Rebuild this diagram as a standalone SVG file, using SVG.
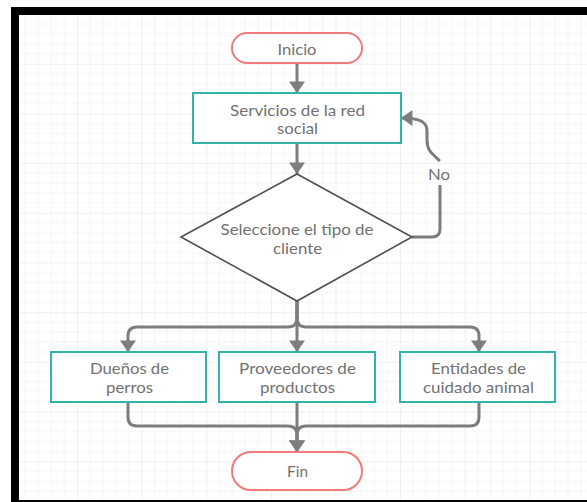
<svg xmlns="http://www.w3.org/2000/svg" width="587" height="502" viewBox="0 0 587 502">
  <style>
    .term { fill: #ffffff; stroke: #f27a78; stroke-width: 2; }
    .proc { fill: #ffffff; stroke: #33b1ab; stroke-width: 2; }
    .dec { fill: #ffffff; stroke: #4f4f4f; stroke-width: 1.6; }
    .lbl { font-family: Lato, "Open Sans", sans-serif; font-size: 15px; fill: #727272; text-anchor: middle; dominant-baseline: central; }
    .edge { fill: none; stroke: #7d7d7d; stroke-width: 3; }
    .arrow { marker-end: url(#head); }
    .minor { stroke: #f5f5f5; stroke-width: 1; }
    .major { stroke: #ebebeb; stroke-width: 1.6; }
  </style>
  <defs>
    <marker id="head" markerUnits="userSpaceOnUse" markerWidth="16" markerHeight="16" viewBox="0 0 10 14" refX="10" refY="7" orient="auto">
      <path d="M0,0 L10,7 L0,14 Z" fill="#7d7d7d"/>
    </marker>
    <pattern id="grid" patternUnits="userSpaceOnUse" x="12.5" y="14" width="64.6" height="49.7">
      <g class="minor">
        <line x1="12.92" y1="0" x2="12.92" y2="49.7"/>
        <line x1="25.84" y1="0" x2="25.84" y2="49.7"/>
        <line x1="38.76" y1="0" x2="38.76" y2="49.7"/>
        <line x1="51.68" y1="0" x2="51.68" y2="49.7"/>
        <line x1="0" y1="9.94" x2="64.6" y2="9.94"/>
        <line x1="0" y1="19.88" x2="64.6" y2="19.88"/>
        <line x1="0" y1="29.82" x2="64.6" y2="29.82"/>
        <line x1="0" y1="39.76" x2="64.6" y2="39.76"/>
      </g>
      <g class="major">
        <line x1="0" y1="0" x2="0" y2="49.7"/>
        <line x1="0" y1="0" x2="64.6" y2="0"/>
      </g>
    </pattern>
  </defs>

  <!-- canvas and frame -->
  <rect x="0" y="0" width="587" height="502" fill="#ffffff"/>
  <rect x="19" y="15" width="568" height="485" fill="url(#grid)"/>
  <rect x="11" y="7" width="576" height="8" fill="#000000"/>
  <rect x="11" y="7" width="8" height="495" fill="#000000"/>
  <rect x="11" y="500" width="576" height="2" fill="#000000"/>

  <!-- connectors -->
  <g id="connectors">
    <path class="edge arrow" d="M297,63 V93"/>
    <path class="edge arrow" d="M297,143 V174"/>
    <path class="edge" d="M412,237 H432 Q440,237 440,229 V185"/>
    <path class="edge arrow" d="M440,161 C431,153 427,150 427,140 L427,131 C427,123 422,118 401,118"/>
    <path class="edge arrow" d="M297,301 V352"/>
    <path class="edge arrow" d="M297,301 V318 Q297,327 288,327 H137 Q128,327 128,336 V352"/>
    <path class="edge arrow" d="M297,301 V318 Q297,327 306,327 H470 Q479,327 479,336 V352"/>
    <path class="edge arrow" d="M128,402 V417 Q128,426 137,426 H288 Q297,426 297,435 V452"/>
    <path class="edge arrow" d="M297,402 V452"/>
    <path class="edge arrow" d="M479,402 V417 Q479,426 470,426 H306 Q297,426 297,435 V452"/>
    <text class="lbl" x="439" y="174" textLength="22" lengthAdjust="spacingAndGlyphs">No</text>
  </g>

  <!-- nodes -->
  <g id="inicio">
    <rect class="term" x="232" y="33" width="130" height="30" rx="15"/>
    <text class="lbl" x="297" y="49" textLength="39" lengthAdjust="spacingAndGlyphs">Inicio</text>
  </g>
  <g id="servicios">
    <rect class="proc" x="193" y="93" width="208" height="50"/>
    <text class="lbl" x="297.5" y="110" textLength="135" lengthAdjust="spacingAndGlyphs">Servicios de la red</text>
    <text class="lbl" x="297.5" y="128" textLength="41" lengthAdjust="spacingAndGlyphs">social</text>
  </g>
  <g id="seleccione">
    <path class="dec" d="M297,174 L412,237 L297,301 L181,237 Z"/>
    <text class="lbl" x="297" y="229" textLength="153" lengthAdjust="spacingAndGlyphs">Seleccione el tipo de</text>
    <text class="lbl" x="297.5" y="248" textLength="49" lengthAdjust="spacingAndGlyphs">cliente</text>
  </g>
  <g id="duenos">
    <rect class="proc" x="51" y="352" width="155" height="50"/>
    <text class="lbl" x="129.5" y="368" textLength="79" lengthAdjust="spacingAndGlyphs">Dueños de</text>
    <text class="lbl" x="129.5" y="387" textLength="47" lengthAdjust="spacingAndGlyphs">perros</text>
  </g>
  <g id="proveedores">
    <rect class="proc" x="219" y="352" width="156" height="50"/>
    <text class="lbl" x="297.5" y="368" textLength="117" lengthAdjust="spacingAndGlyphs">Proveedores de</text>
    <text class="lbl" x="297.5" y="387" textLength="75" lengthAdjust="spacingAndGlyphs">productos</text>
  </g>
  <g id="entidades">
    <rect class="proc" x="400" y="352" width="155" height="50"/>
    <text class="lbl" x="478.5" y="368" textLength="95" lengthAdjust="spacingAndGlyphs">Entidades de</text>
    <text class="lbl" x="478.5" y="387" textLength="111" lengthAdjust="spacingAndGlyphs">cuidado animal</text>
  </g>
  <g id="fin">
    <rect class="term" x="232" y="452" width="130" height="38" rx="19"/>
    <text class="lbl" x="297.5" y="471" textLength="21" lengthAdjust="spacingAndGlyphs">Fin</text>
  </g>
</svg>
